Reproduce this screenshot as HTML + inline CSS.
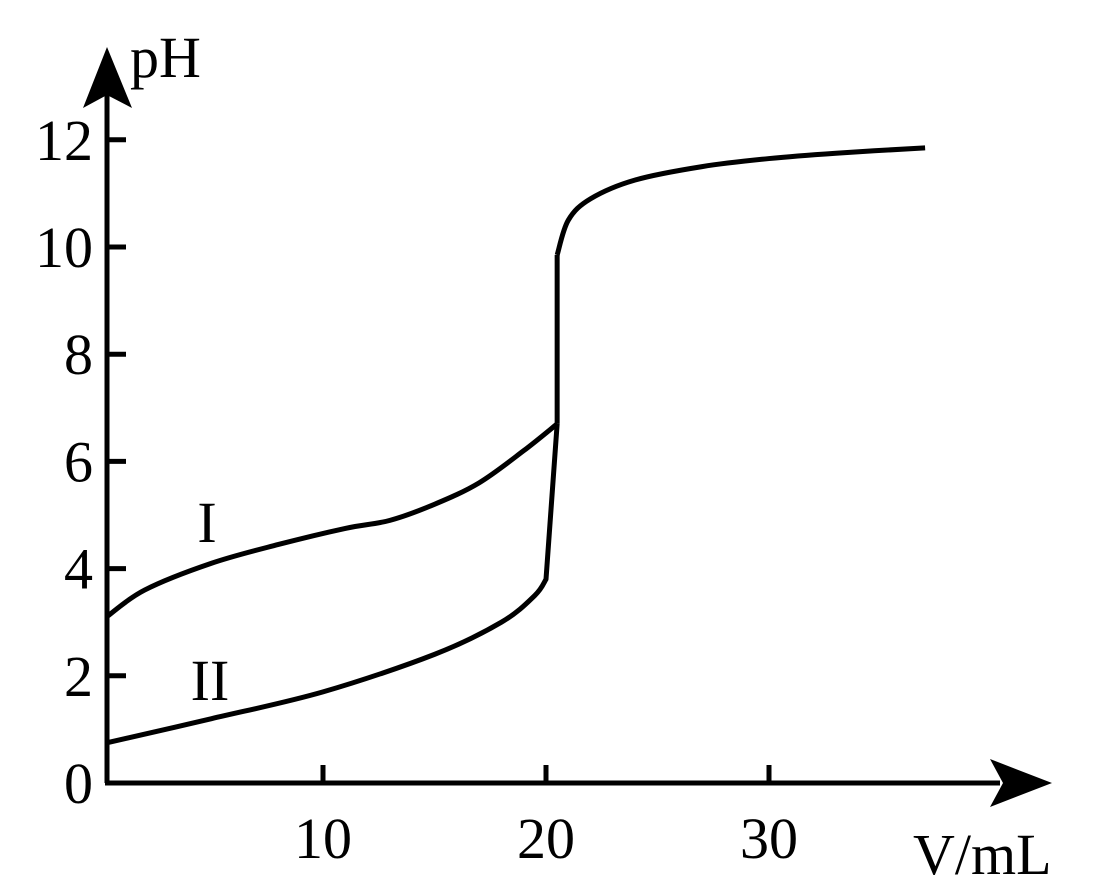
<!DOCTYPE html>
<html><head><meta charset="utf-8"><style>
html,body{margin:0;padding:0;background:#fff;}
svg{display:block;}
text{font-family:"Liberation Serif",serif;fill:#000;}
</style></head><body>
<svg id="chart" width="1104" height="894" viewBox="0 0 1104 894">
<g id="axes"></g>
<g id="series"></g>
</svg>
<script>
const xTicks=[10,20,30];
const yTicks=[0,2,4,6,8,10,12];
const curveIV=[0.3,2,5,8,11,13,15,17,19,20.5];
const curveIpH=[3.1,3.6,4.1,4.45,4.75,4.9,5.2,5.6,6.2,6.7];
const jumpV=[20.5,20.5,21,22,24,27,30,33,37];
const jumppH=[6.7,9.85,10.5,10.9,11.25,11.5,11.65,11.75,11.85];
const curveIIV=[0.3,5,10,15,18,19.5,20,20.5];
const curveIIpH=[0.75,1.2,1.7,2.4,3.0,3.5,3.8,6.7];

const X0=100,XS=22.3,Y0=783,YS=53.6;
const sx=v=>X0+v*XS, sy=p=>Y0-p*YS;
const NS='http://www.w3.org/2000/svg';
const axes=document.getElementById('axes'), ser=document.getElementById('series');
function mk(tag,attrs,parent){const e=document.createElementNS(NS,tag);for(const k in attrs)e.setAttribute(k,attrs[k]);parent.appendChild(e);return e;}
const AX=107;
let e;
e=mk('line',{x1:AX,y1:sy(0),x2:AX,y2:95,stroke:'#000','stroke-width':5},axes);


e=mk('polygon',{points:`${AX},47 ${AX-24},108 ${AX},95 ${AX+25},108`,fill:'#000'},axes);


e=mk('line',{x1:AX-2,y1:sy(0),x2:1000,y2:sy(0),stroke:'#000','stroke-width':5},axes);


e=mk('polygon',{points:`1052,${sy(0)} 990,${sy(0)-24} 1003,${sy(0)} 990,${sy(0)+24}`,fill:'#000'},axes);


yTicks.forEach(t=>{
  if(t>0){
    const l=mk('line',{x1:AX,y1:sy(t),x2:AX+19,y2:sy(t),stroke:'#000','stroke-width':5},axes);
    
    
  }
  const tx=mk('text',{x:93,y:sy(t)+20,'font-size':58,'text-anchor':'end'},axes);
  tx.textContent=t;
  
  
});
xTicks.forEach(t=>{
  const l=mk('line',{x1:sx(t),y1:sy(0),x2:sx(t),y2:sy(0)-18,stroke:'#000','stroke-width':5},axes);
  
  
  const tx=mk('text',{x:sx(t),y:858,'font-size':58,'text-anchor':'middle'},axes);
  tx.textContent=t;
  
  
});
e=mk('text',{x:130,y:77,'font-size':58},axes);e.textContent='pH';


e=mk('text',{x:913,y:874,'font-size':58},axes);e.textContent='V/mL';



function smooth(xs,ys){
  const p=xs.map((v,i)=>[sx(v),sy(ys[i])]);
  let d=`M${p[0][0]},${p[0][1]}`;
  for(let i=0;i<p.length-1;i++){
    const p0=p[Math.max(0,i-1)],p1=p[i],p2=p[i+1],p3=p[Math.min(p.length-1,i+2)];
    const c1=[p1[0]+(p2[0]-p0[0])/6,p1[1]+(p2[1]-p0[1])/6];
    const c2=[p2[0]-(p3[0]-p1[0])/6,p2[1]-(p3[1]-p1[1])/6];
    d+=` C${c1[0]},${c1[1]} ${c2[0]},${c2[1]} ${p2[0]},${p2[1]}`;
  }
  return d;
}
e=mk('path',{d:smooth(curveIV,curveIpH),fill:'none',stroke:'#000','stroke-width':5},ser);


e=mk('path',{d:`M${sx(jumpV[0])},${sy(jumppH[0])} L${sx(jumpV[1])},${sy(jumppH[1])}`,fill:'none',stroke:'#000','stroke-width':5},ser);


e=mk('path',{d:smooth(jumpV.slice(1),jumppH.slice(1)),fill:'none',stroke:'#000','stroke-width':5},ser);


e=mk('path',{d:smooth(curveIIV.slice(0,-1),curveIIpH.slice(0,-1))+` L${sx(curveIIV[curveIIV.length-1])},${sy(curveIIpH[curveIIpH.length-1])}`,fill:'none',stroke:'#000','stroke-width':5,'stroke-linejoin':'round'},ser);


e=mk('text',{x:207,y:542,'font-size':58,'text-anchor':'middle'},ser);e.textContent='I';


e=mk('text',{x:210,y:700,'font-size':58,'text-anchor':'middle'},ser);e.textContent='II';


</script>
</body></html>
